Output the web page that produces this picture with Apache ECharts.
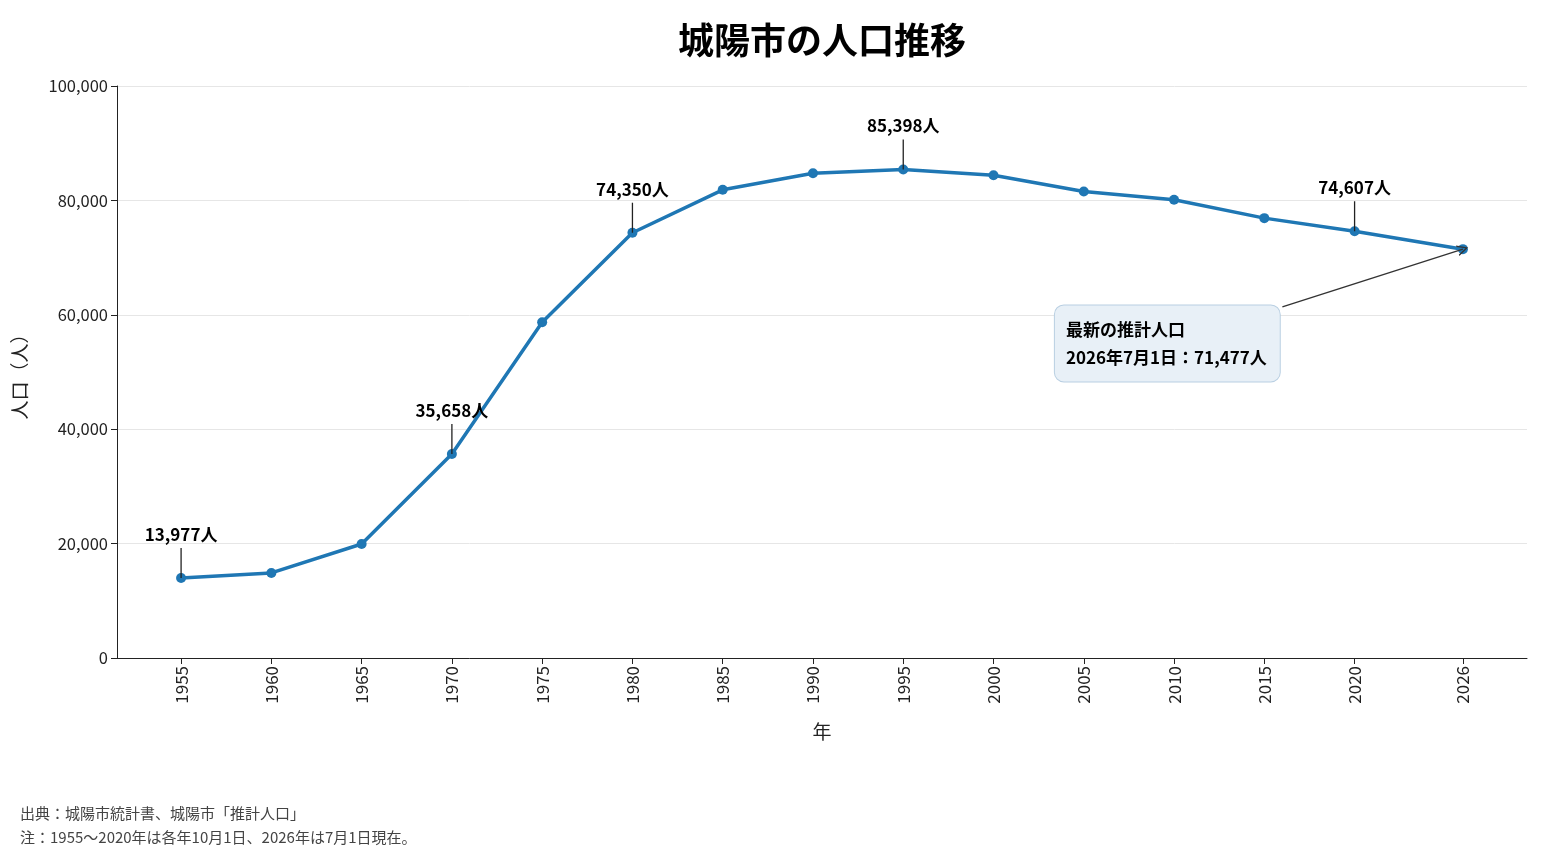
<!DOCTYPE html>
<html>
<head>
<meta charset="utf-8">
<script src="https://cdn.jsdelivr.net/npm/echarts@6/dist/echarts.min.js"></script>
<style>
  html, body { margin: 0; padding: 0; background: #fff; }
  #chart { width: 1550px; height: 860px; }
</style>
</head>
<body>
<div id="chart"></div>
<script>
const years = [1955, 1960, 1965, 1970, 1975, 1980, 1985, 1990, 1995, 2000, 2005, 2010, 2015, 2020, 2026];
const population = [13977, 14870, 19930, 35658, 58700, 74350, 81850, 84750, 85398, 84400, 81550, 80100, 76900, 74607, 71477];
const labeledYears = [1955, 1970, 1980, 1995, 2020];
const noteTitle = '最新の推計人口';
const noteText = '2026年7月1日：71,477人';
const noteAt = [2003.4, 55000];
const arrowFrom = [2016, 61400];

const FONT = 'Noto Sans CJK JP';
const fmt = v => v.toLocaleString('en-US');

const chart = echarts.init(document.getElementById('chart'));

let pts = years.map((y, i) => [y, population[i]]);

let markData = labeledYears.map(y => {
    let v = population[years.indexOf(y)];
    return {
        coord: [y, v],
        value: v,
        symbol: 'rect',
        symbolSize: [1.3, 30],
        symbolOffset: [0, -15],
        itemStyle: {color: '#222'},
        label: {
            show: true,
            position: 'top',
            distance: 5,
            formatter: fmt(v) + '人',
            color: '#000',
            fontFamily: FONT,
            fontSize: 17,
            fontWeight: 'bold'
        }
    };
});

// callout box for the latest estimate
markData.push({
    coord: noteAt,
    symbol: 'circle',
    symbolSize: 1,
    itemStyle: {color: 'rgba(0,0,0,0)'},
    label: {
        show: true,
        position: 'inside',
        align: 'left',
        verticalAlign: 'middle',
        formatter: noteTitle + '\n' + noteText,
        color: '#000',
        fontFamily: FONT,
        fontSize: 17,
        fontWeight: 'bold',
        lineHeight: 28,
        backgroundColor: '#e8f0f7',
        borderColor: '#b9cfe2',
        borderWidth: 1,
        borderRadius: 9,
        padding: [10, 13, 10, 11]
    }
});

let option = {
    animation: false,
    textStyle: {fontFamily: FONT},
    title: {
        text: '城陽市の人口推移',
        left: 817,
        top: 17,
        textAlign: 'center',
        textStyle: {fontFamily: FONT, fontSize: 36, fontWeight: 'bold', color: '#000'}
    },
    grid: {left: 117, right: 23, top: 86, bottom: 202, containLabel: false},
    xAxis: {
        type: 'value',
        min: 1951.45,
        max: 2029.55,
        name: '年',
        nameLocation: 'middle',
        nameGap: 64,
        nameTextStyle: {fontFamily: FONT, fontSize: 19, color: '#222'},
        splitLine: {show: false},
        axisLine: {show: true, lineStyle: {color: '#222', width: 1}},
        axisTick: {show: true, customValues: years, length: 6, lineStyle: {color: '#222'}},
        axisLabel: {
            customValues: years,
            rotate: 90,
            margin: 8,
            fontSize: 17,
            color: '#222',
            fontFamily: FONT,
            formatter: v => String(v)
        }
    },
    yAxis: {
        type: 'value',
        min: 0,
        max: 100000,
        interval: 20000,
        name: '人口（人）',
        nameLocation: 'middle',
        nameGap: 88,
        nameRotate: 90,
        nameTextStyle: {fontFamily: FONT, fontSize: 19, color: '#222'},
        axisLine: {show: true, lineStyle: {color: '#222', width: 1}},
        axisTick: {show: true, length: 6, lineStyle: {color: '#222'}},
        axisLabel: {
            fontSize: 16.5,
            color: '#222',
            fontFamily: FONT,
            margin: 9,
            formatter: v => fmt(v)
        },
        splitLine: {show: true, lineStyle: {color: '#e6e6e6', width: 1}}
    },
    series: [{
        type: 'line',
        data: pts,
        symbol: 'circle',
        symbolSize: 10,
        lineStyle: {color: '#1f77b4', width: 3.5},
        itemStyle: {color: '#1f77b4'},
        z: 3,
        markPoint: {
            silent: true,
            data: markData
        },
        markLine: {
            silent: true,
            symbol: ['none', 'path://M0,12 L5,0 L10,12 L8.6,12 L5,3 L1.4,12 Z'],
            symbolSize: [11, 11],
            label: {show: false},
            lineStyle: {color: '#333', width: 1.4, type: 'solid'},
            data: [[{coord: arrowFrom}, {coord: [years[years.length - 1], population[population.length - 1]]}]]
        }
    }],
    graphic: [
        {
            type: 'text', left: 20, top: 806,
            style: {text: '出典：城陽市統計書、城陽市「推計人口」', fontFamily: FONT, fontSize: 15, fill: '#444'}
        },
        {
            type: 'text', left: 20, top: 830,
            style: {text: '注：1955～2020年は各年10月1日、2026年は7月1日現在。', fontFamily: FONT, fontSize: 15, fill: '#444'}
        }
    ]
};

chart.setOption(option);
</script>
</body>
</html>
